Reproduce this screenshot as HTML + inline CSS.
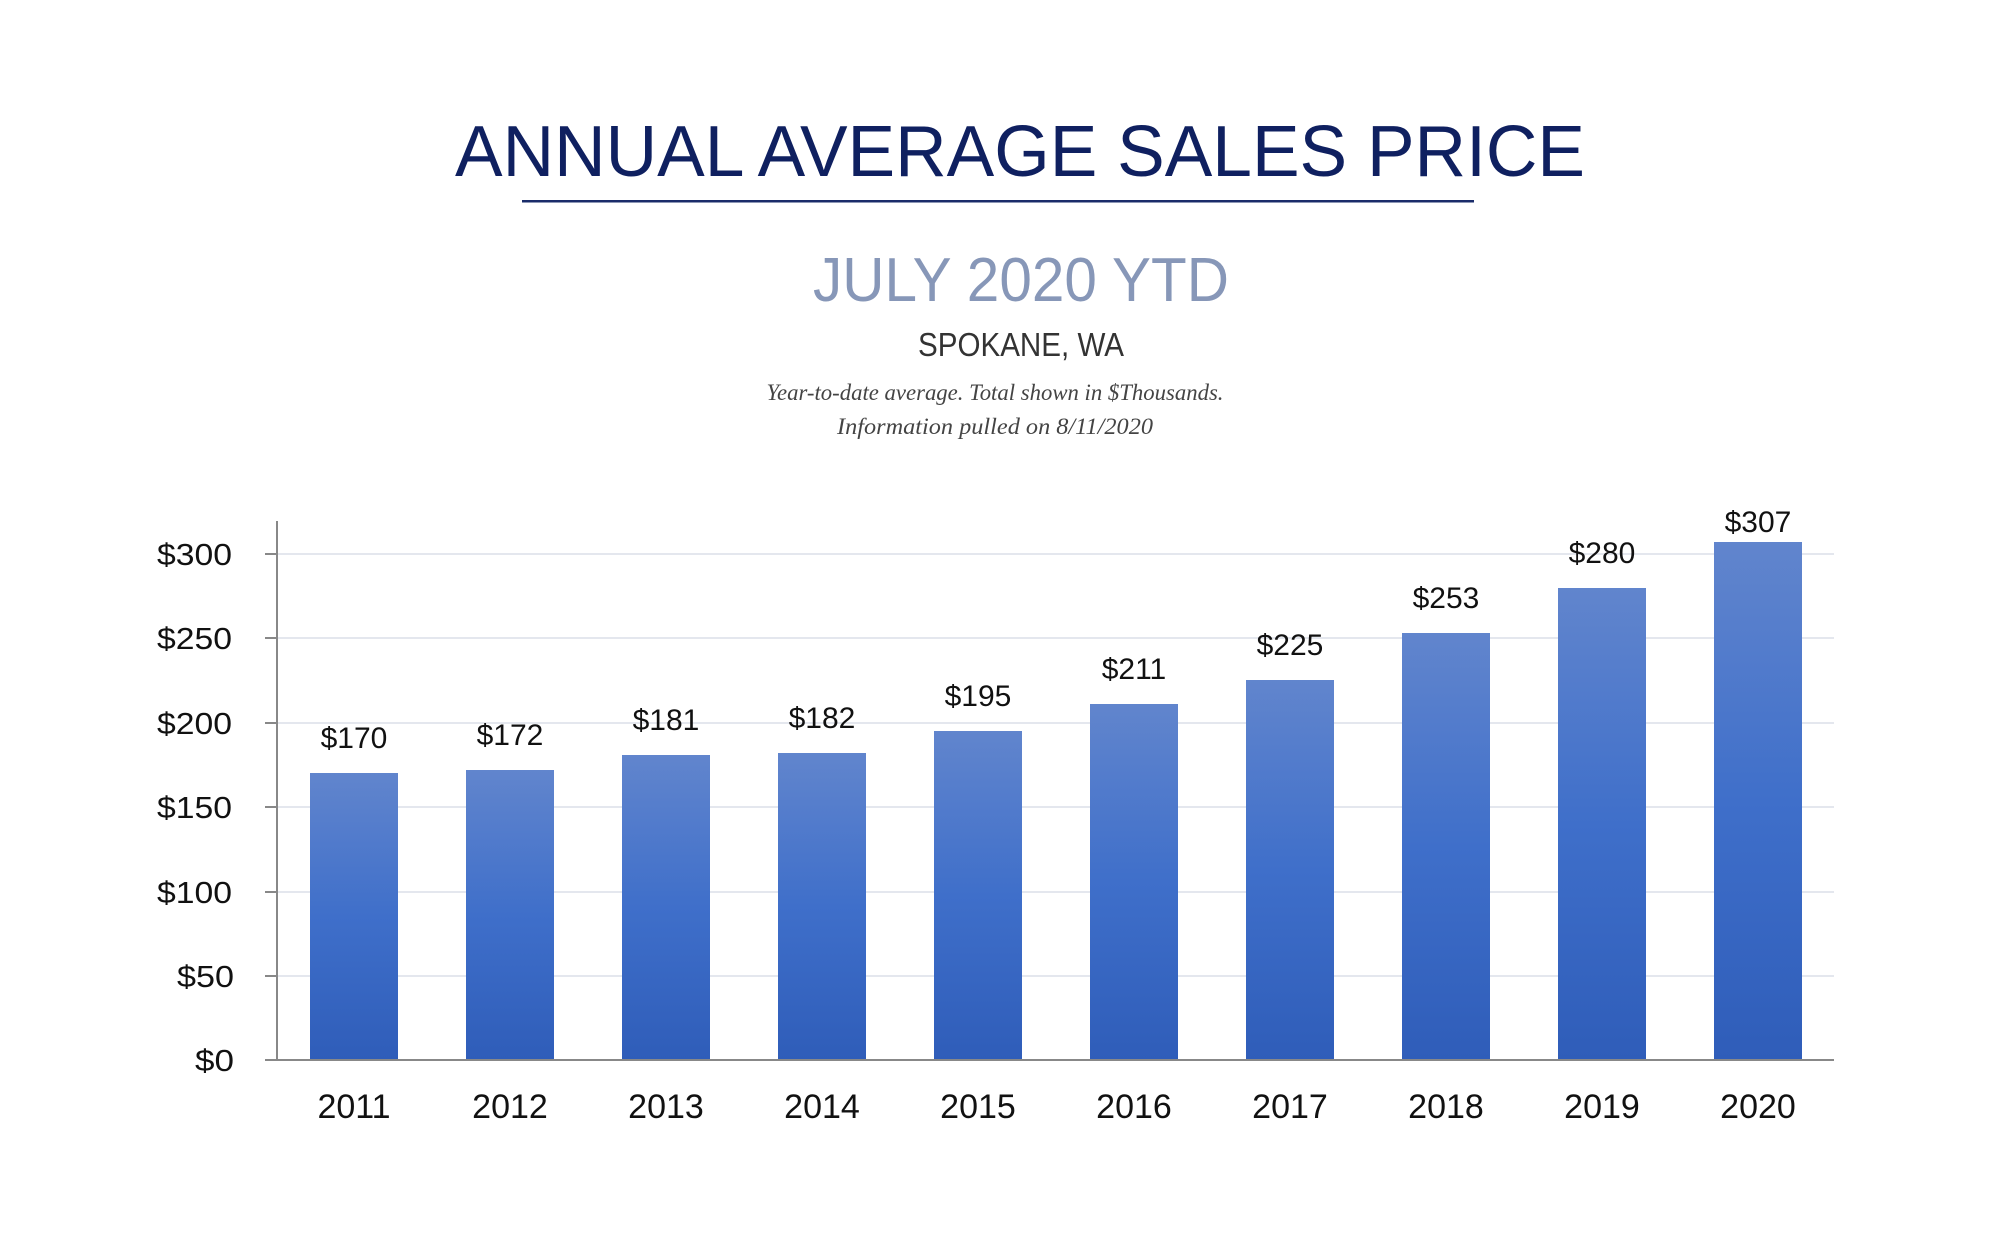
<!DOCTYPE html>
<html><head><meta charset="utf-8"><style>
html,body{margin:0;padding:0;background:#fff;width:2000px;height:1250px;overflow:hidden}
</style></head><body>
<svg width="2000" height="1250" xmlns="http://www.w3.org/2000/svg">
<defs><linearGradient id="g" x1="0" y1="0" x2="0" y2="1"><stop offset="0" stop-color="#6185cd"/><stop offset="0.5" stop-color="#3f6fca"/><stop offset="1" stop-color="#2f5db9"/></linearGradient></defs>
<text x="1020" y="176" text-anchor="middle" font-family="Liberation Sans, sans-serif" font-size="72" fill="#0f2060" textLength="1130" lengthAdjust="spacingAndGlyphs">ANNUAL AVERAGE SALES PRICE</text>
<rect x="522" y="200" width="952" height="2.5" fill="#1a2c6a"/>
<text x="1021" y="301" text-anchor="middle" font-family="Liberation Sans, sans-serif" font-size="62" fill="#8797b8" textLength="416" lengthAdjust="spacingAndGlyphs">JULY 2020 YTD</text>
<text x="1021" y="356" text-anchor="middle" font-family="Liberation Sans, sans-serif" font-size="33" fill="#333" textLength="206" lengthAdjust="spacingAndGlyphs">SPOKANE, WA</text>
<text x="995" y="400" text-anchor="middle" font-family="Liberation Serif, serif" font-style="italic" font-size="23" fill="#444" textLength="457" lengthAdjust="spacingAndGlyphs">Year-to-date average.  Total shown in $Thousands.</text>
<text x="995" y="434" text-anchor="middle" font-family="Liberation Serif, serif" font-style="italic" font-size="23" fill="#444" textLength="316" lengthAdjust="spacingAndGlyphs">Information pulled on 8/11/2020</text>
<g stroke="#dcdfe8" stroke-width="1.5">
<line x1="276" y1="554" x2="1834" y2="554"/><line x1="276" y1="638" x2="1834" y2="638"/><line x1="276" y1="723" x2="1834" y2="723"/><line x1="276" y1="807" x2="1834" y2="807"/><line x1="276" y1="892" x2="1834" y2="892"/><line x1="276" y1="976" x2="1834" y2="976"/>
</g>
<g fill="url(#g)">
<rect x="310" y="773" width="88" height="287"/>
<rect x="466" y="770" width="88" height="290"/>
<rect x="622" y="755" width="88" height="305"/>
<rect x="778" y="753" width="88" height="307"/>
<rect x="934" y="731" width="88" height="329"/>
<rect x="1090" y="704" width="88" height="356"/>
<rect x="1246" y="680" width="88" height="380"/>
<rect x="1402" y="633" width="88" height="427"/>
<rect x="1558" y="588" width="88" height="472"/>
<rect x="1714" y="542" width="88" height="518"/>
</g>
<g stroke="#888" stroke-width="2">
<line x1="277" y1="521" x2="277" y2="1060"/><line x1="265" y1="1060" x2="1834" y2="1060"/>
<line x1="265" y1="554" x2="277" y2="554"/><line x1="265" y1="638" x2="277" y2="638"/><line x1="265" y1="723" x2="277" y2="723"/><line x1="265" y1="807" x2="277" y2="807"/><line x1="265" y1="892" x2="277" y2="892"/><line x1="265" y1="976" x2="277" y2="976"/>
</g>
<g font-family="Liberation Sans, sans-serif" font-size="31" fill="#111" text-anchor="end">
<text x="232" y="565" textLength="75" lengthAdjust="spacingAndGlyphs">$300</text><text x="232" y="649" textLength="75" lengthAdjust="spacingAndGlyphs">$250</text><text x="232" y="734" textLength="75" lengthAdjust="spacingAndGlyphs">$200</text><text x="232" y="818" textLength="75" lengthAdjust="spacingAndGlyphs">$150</text><text x="232" y="903" textLength="75" lengthAdjust="spacingAndGlyphs">$100</text><text x="234" y="987" textLength="57" lengthAdjust="spacingAndGlyphs">$50</text><text x="234" y="1071" textLength="39" lengthAdjust="spacingAndGlyphs">$0</text>
</g>
<g font-family="Liberation Sans, sans-serif" font-size="30" fill="#111" text-anchor="middle">
<text x="354" y="748">$170</text><text x="510" y="745">$172</text><text x="666" y="730">$181</text><text x="822" y="728">$182</text><text x="978" y="706">$195</text><text x="1134" y="679">$211</text><text x="1290" y="655">$225</text><text x="1446" y="608">$253</text><text x="1602" y="563">$280</text><text x="1758" y="532">$307</text>
</g>
<g font-family="Liberation Sans, sans-serif" font-size="34" fill="#111" text-anchor="middle">
<text x="354" y="1118">2011</text><text x="510" y="1118">2012</text><text x="666" y="1118">2013</text><text x="822" y="1118">2014</text><text x="978" y="1118">2015</text><text x="1134" y="1118">2016</text><text x="1290" y="1118">2017</text><text x="1446" y="1118">2018</text><text x="1602" y="1118">2019</text><text x="1758" y="1118">2020</text>
</g>
</svg>
</body></html>
